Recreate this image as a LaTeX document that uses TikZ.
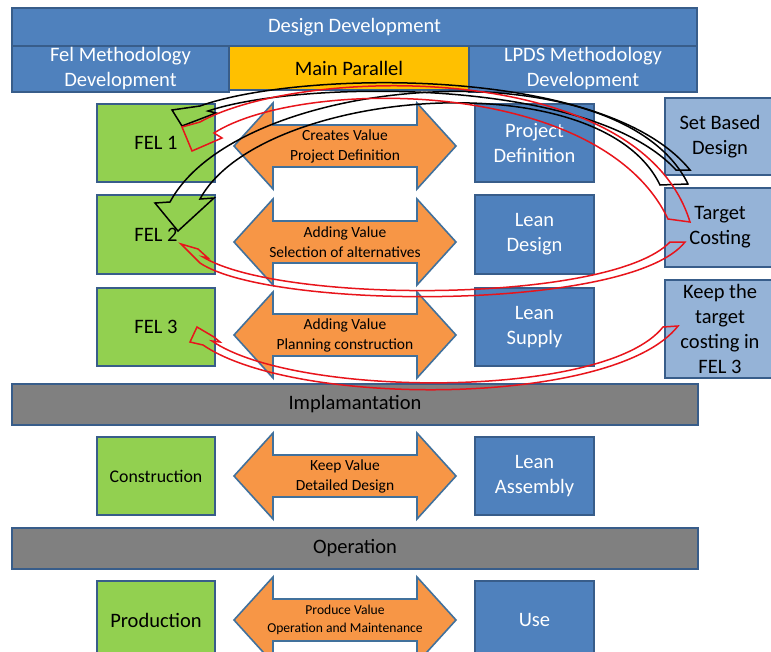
\documentclass[tikz,border=0pt]{standalone}
\usepackage{fontspec}
\setmainfont{Carlito}
\definecolor{hdrblue}{HTML}{4F81BD}
\definecolor{edgeblue}{HTML}{385D8A}
\definecolor{gold}{HTML}{FFC000}
\definecolor{leaf}{HTML}{92D050}
\definecolor{peach}{HTML}{F79646}
\definecolor{peachedge}{HTML}{41719C}
\definecolor{sky}{HTML}{95B3D7}
\definecolor{slate}{HTML}{808080}
\definecolor{loopred}{HTML}{E8141B}
\newcommand{\bigtext}{\fontsize{20.5}{25}\selectfont}
\newcommand{\midtext}{\fontsize{15.5}{20}\selectfont}
% orange two-headed block arrow with its caption
\newcommand{\dualarrow}[3]{%
  \draw[dualshape] (234,#2) -- (273,#2-43) -- (273,#2-21) -- (417,#2-21)
    -- (417,#2-43) -- (456,#2) -- (417,#2+43) -- (417,#2+21)
    -- (273,#2+21) -- (273,#2+43) -- cycle;
  \node[dualcaption] (#1) at (345,#2) {#3};}
\begin{document}
\begin{tikzpicture}[x=1pt,y=-1pt,
  box/.style={draw=edgeblue, line width=1.6pt, inner sep=0pt, align=center},
  bluebox/.style={box, fill=hdrblue, text=white, font=\bigtext},
  greenbox/.style={box, fill=leaf, text=black, font=\bigtext},
  skybox/.style={box, fill=sky, text=black, font=\bigtext},
  greybar/.style={box, fill=slate, text=black, font=\bigtext},
  goldbox/.style={box, fill=gold, text=black, font=\bigtext},
  dualshape/.style={draw=peachedge, line width=1.6pt, fill=peach, line join=miter},
  dualcaption/.style={align=center, text=black, font=\midtext, inner sep=0pt},
  blackloop/.style={draw=black, line width=1.5pt, line join=miter},
  redloop/.style={draw=loopred, line width=1.5pt, line join=miter}]
\useasboundingbox (0,0) rectangle (771,651);
\fill[white] (0,0) rectangle (771,651);

% header rows
\node[bluebox, minimum width=685pt, minimum height=38pt] (dd) at (354.5,27) {Design Development};
\node[bluebox, minimum width=217pt, minimum height=46pt] (felm) at (120.5,69) {Fel Methodology\\Development};
\node[bluebox, minimum width=228pt, minimum height=46pt] (lpds) at (583,69) {LPDS Methodology\\Development};
\node[goldbox, minimum width=240pt, minimum height=44pt] (mp) at (349,68) {Main Parallel};

% design development rows
\node[greenbox, minimum width=118pt, minimum height=78pt] (fel1) at (156,143) {FEL 1};
\node[greenbox, minimum width=118pt, minimum height=79pt] (fel2) at (156,234.5) {FEL 2};
\node[greenbox, minimum width=118pt, minimum height=78pt] (fel3) at (156,327) {FEL 3};
\node[bluebox, minimum width=119pt, minimum height=78pt] (pd) at (534.5,143) {Project\\Definition};
\node[bluebox, minimum width=119pt, minimum height=79pt] (ld) at (534.5,234.5) {Lean\\Design};
\node[bluebox, minimum width=119pt, minimum height=78pt] (ls) at (534.5,327) {Lean\\Supply};
\node[skybox, minimum width=110pt, minimum height=77pt] (sbd) at (720,136.5) {Set Based\\Design};
\node[skybox, minimum width=110pt, minimum height=79pt] (tc) at (720,227.5) {Target\\Costing};
\node[skybox, minimum width=110pt, minimum height=98pt] (keep) at (720,329) {Keep the\\target\\costing in\\FEL 3};

\dualarrow{v1}{146}{Creates Value\\Project Definition}
\dualarrow{v2}{242}{Adding Value\\Selection of alternatives}
\dualarrow{v3}{335}{Adding Value\\Planning construction}

% implementation
\node[greybar, minimum width=686pt, minimum height=41pt] (impl) at (355,404.5) {Implamantation};
\node[greenbox, minimum width=118pt, minimum height=78pt, font=\fontsize{17.8}{22}\selectfont] (cons) at (156,476) {Construction};
\node[bluebox, minimum width=119pt, minimum height=78pt] (la) at (534.5,476) {Lean\\Assembly};
\dualarrow{v4}{476}{Keep Value\\Detailed Design}

% operation
\node[greybar, minimum width=686pt, minimum height=41pt] (oper) at (355,548.5) {Operation};
\node[greenbox, minimum width=118pt, minimum height=78pt] (prod) at (156,620) {Production};
\node[bluebox, minimum width=119pt, minimum height=78pt] (use) at (534.5,620) {Use};
\begingroup
\tikzset{dualcaption/.append style={font=\fontsize{13.6}{18}\selectfont}}
\dualarrow{v5}{620}{Produce Value\\Operation and Maintenance}
\endgroup

% curved feedback arrows (outlined block arrows)
\draw[blackloop] (690,170) .. controls (605,65) and (300,70) .. (200,106)
  -- (172,110) -- (182,126) -- (216,113) -- (208,111)
  .. controls (300,80) and (590,76) .. (676,170) -- cycle;
\draw[blackloop] (688,184) .. controls (620,45) and (240,72) .. (170,202)
  -- (155,203) -- (178,231) -- (214,198) -- (200,199)
  .. controls (260,88) and (600,60) .. (660,185) -- cycle;
\draw[redloop] (690,222) .. controls (640,58) and (300,66) .. (200,122)
  -- (182,127) -- (192,151) -- (222,138) -- (214,133)
  .. controls (300,78) and (600,76) .. (668,219) -- cycle;
\draw[redloop] (685,242) .. controls (630,312) and (270,310) .. (200,263)
  -- (181,244) -- (198,249) -- (208,258) -- (203,257)
  .. controls (280,304) and (610,304) .. (670,242) -- cycle;
\draw[redloop] (678,326) .. controls (615,407) and (295,408) .. (203,345)
  -- (190,342) -- (197,327) -- (214,337) -- (220,342) -- (212,341)
  .. controls (295,398) and (605,400) .. (663,327) -- cycle;
\end{tikzpicture}
\end{document}
